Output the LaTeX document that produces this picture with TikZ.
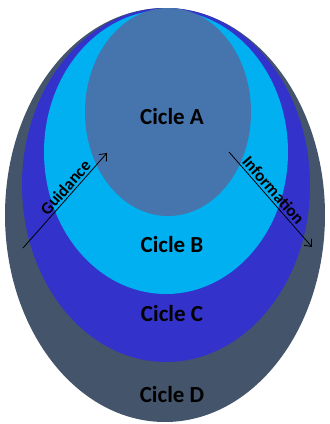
\documentclass[tikz,border=0pt]{standalone}
\usepackage{fontspec}
\setmainfont{Carlito}
\usetikzlibrary{arrows.meta}
\definecolor{cicleD}{HTML}{44546A}
\definecolor{cicleC}{HTML}{3333CC}
\definecolor{cicleB}{HTML}{00B0F0}
\definecolor{cicleA}{HTML}{4674AC}
\tikzset{
  ciclelabel/.style={font=\fontsize{23}{27}\selectfont\bfseries, text=black},
  flowlabel/.style={font=\fontsize{17}{20}\selectfont\bfseries, text=black, sloped, above, inner sep=2pt},
  flowarrow/.style={draw=black, line width=0.8pt, -{Straight Barb[length=6pt, width=10pt]}}
}
\begin{document}
\begin{tikzpicture}[x=1pt, y=1pt]
\useasboundingbox (0,0) rectangle (330,424);
\fill[cicleD] (165,209) ellipse [x radius=160, y radius=207];
\fill[cicleC] (166,239) ellipse [x radius=144, y radius=177];
\fill[cicleB] (166,272) ellipse [x radius=122, y radius=142];
\fill[cicleA] (168,312) ellipse [x radius=83, y radius=104];
\node[ciclelabel] (labelA) at (172,307) {Cicle A};
\node[ciclelabel] (labelB) at (172,179) {Cicle B};
\node[ciclelabel] (labelC) at (172,110) {Cicle C};
\node[ciclelabel] (labelD) at (172,29) {Cicle D};
\coordinate (guideStart) at (23,176);
\coordinate (guideEnd) at (107,271);
\coordinate (infoStart) at (229,272);
\coordinate (infoEnd) at (312,177);
\draw[flowarrow] (guideStart) -- node[flowlabel, pos=0.58] (guideText) {Guidance} (guideEnd);
\draw[flowarrow] (infoStart) -- node[flowlabel, pos=0.46] (infoText) {Information} (infoEnd);
\end{tikzpicture}
\end{document}
